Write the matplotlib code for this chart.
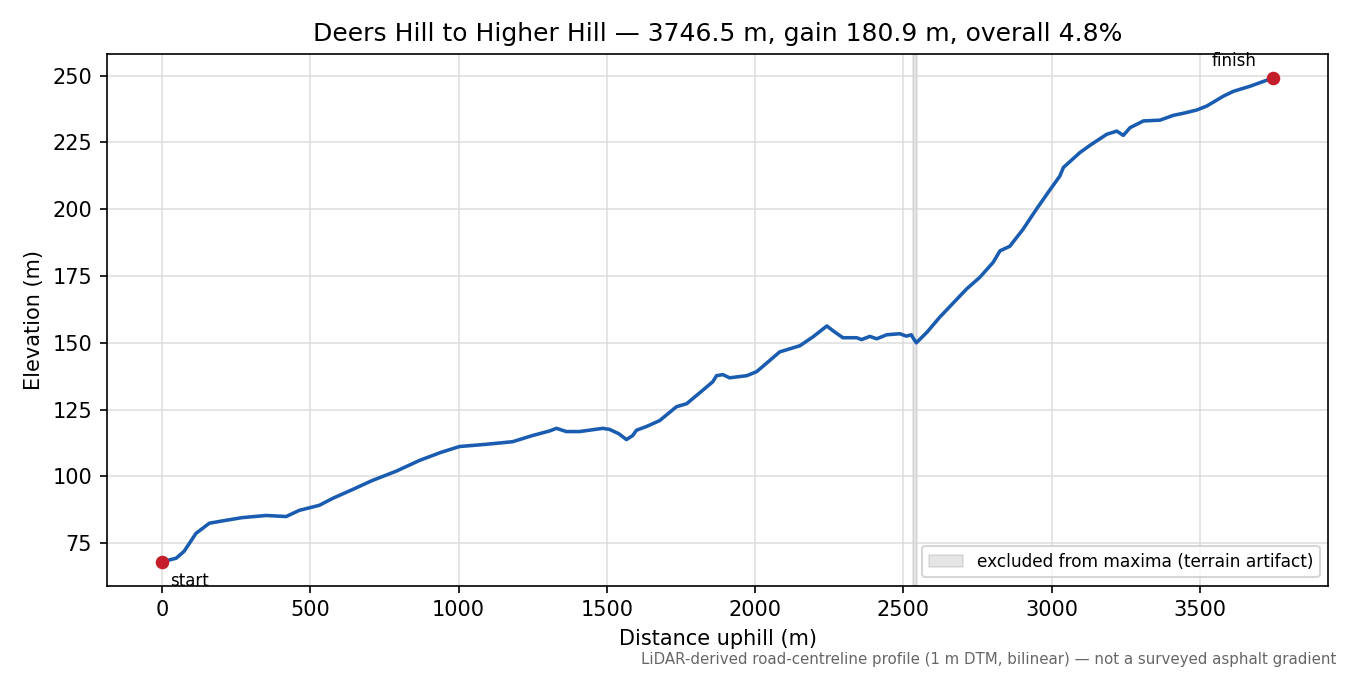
import matplotlib
matplotlib.use("Agg")
import matplotlib.pyplot as plt

# --- profile (distance uphill m, elevation m) ---
distancia = [0, 47, 74, 114, 159, 210, 270, 351, 418, 462, 530, 575, 640, 709, 790,
             868, 940, 1003, 1090, 1182, 1249, 1306, 1330, 1363, 1408, 1486, 1509,
             1540, 1566, 1587, 1600, 1634, 1678, 1735, 1769, 1810, 1857, 1870, 1891,
             1914, 1972, 2005, 2040, 2083, 2151, 2195, 2242, 2263, 2296, 2343, 2359,
             2387, 2410, 2444, 2488, 2510, 2527, 2533, 2544, 2580, 2623, 2665, 2713,
             2758, 2803, 2826, 2859, 2904, 2949, 2990, 3028, 3040, 3096, 3130, 3186,
             3220, 3242, 3265, 3310, 3366, 3411, 3450, 3490, 3524, 3580, 3614, 3670,
             3720, 3746.5]
elevacion = [68.1, 69.4, 72.0, 78.7, 82.5, 83.5, 84.6, 85.4, 85.0, 87.3, 89.2, 91.8,
             95.0, 98.5, 102.0, 106.0, 109.0, 111.2, 112.0, 113.0, 115.3, 117.0, 118.0,
             116.8, 116.8, 118.0, 117.6, 116.0, 113.8, 115.3, 117.3, 118.7, 120.9,
             126.1, 127.2, 131.0, 135.4, 137.7, 138.1, 136.9, 137.7, 139.2, 142.5,
             146.6, 148.9, 152.2, 156.3, 154.5, 151.9, 151.9, 151.2, 152.4, 151.5,
             153.0, 153.4, 152.5, 153.0, 151.8, 150.0, 154.0, 159.6, 164.5, 170.1,
             174.5, 180.1, 184.4, 186.1, 192.5, 200.0, 206.5, 212.4, 215.6, 221.2,
             223.9, 228.0, 229.2, 227.6, 230.5, 233.0, 233.3, 235.1, 236.0, 237.1,
             238.6, 242.3, 244.1, 246.0, 248.0, 249.0]

# tramo excluido (artefacto del terreno)
excluido = [2534, 2546]

titulo = "Deers Hill to Higher Hill \u2014 3746.5 m, gain 180.9 m, overall 4.8%"
nota = "LiDAR-derived road-centreline profile (1 m DTM, bilinear) \u2014 not a surveyed asphalt gradient"

fig, ax = plt.subplots(figsize=(9, 4.5), dpi=150)
fig.subplots_adjust(left=0.079, right=0.984, top=0.92, bottom=0.132)

ax.axvspan(excluido[0], excluido[1], facecolor="gray", edgecolor="gray", alpha=0.2,
           lw=0.8, label="excluded from maxima (terrain artifact)")
ax.plot(distancia, elevacion, color="#1a5cb0", lw=1.7)

# puntos de inicio y fin
ax.plot([distancia[0], distancia[-1]], [elevacion[0], elevacion[-1]], "o",
        color="#c41e2a", ms=5.5, zorder=5)
ax.annotate("start", (distancia[0], elevacion[0]), xytext=(4, -5),
            textcoords="offset points", ha="left", va="top", fontsize=8)
ax.annotate("finish", (distancia[-1], elevacion[-1]), xytext=(-8, 4),
            textcoords="offset points", ha="right", va="bottom", fontsize=8)

ax.grid(True, color="#d8d8d8", lw=0.8, alpha=0.8)
ax.set_xlabel("Distance uphill (m)")
ax.set_ylabel("Elevation (m)")
ax.set_title(titulo, fontsize=12)
ax.legend(loc="lower right", fontsize=8.2)

fig.text(0.99, 0.012, nota, ha="right", va="bottom", fontsize=7.2, color="#666666")

fig.savefig("out.png", dpi=150)
